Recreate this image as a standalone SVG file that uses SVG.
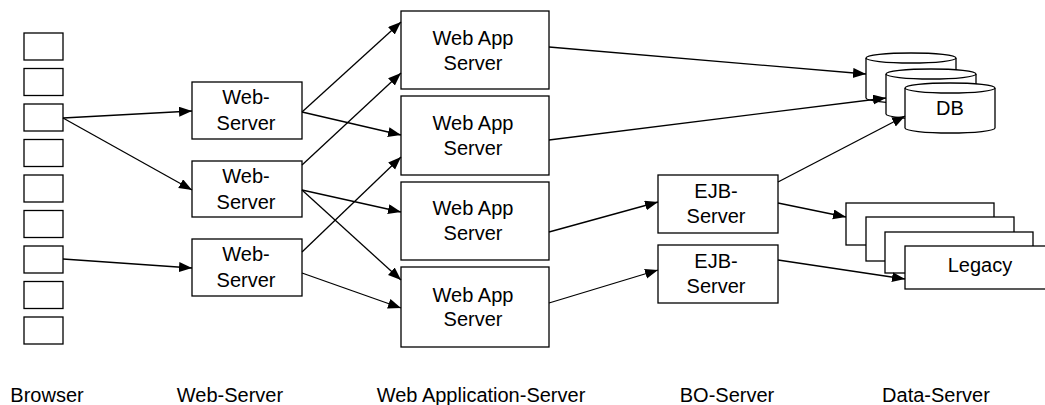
<svg xmlns="http://www.w3.org/2000/svg" width="1045" height="405" viewBox="0 0 1045 405">
<style>
.box{fill:#fff;stroke:#000;stroke-width:1.3}
.t{font-family:"Liberation Sans",Arial,sans-serif;font-size:20px;fill:#000;text-anchor:middle}
.c{fill:none;stroke:#000;stroke-width:1.3}
</style>
<defs>
<marker id="ah" markerUnits="userSpaceOnUse" markerWidth="14" markerHeight="12" refX="13" refY="5" orient="auto">
<path d="M0,0 L13,5 L0,10 z" fill="#000"/>
</marker>
</defs>
<rect width="1045" height="405" fill="#fff"/>
<g id="browser">
<rect class="box" x="24" y="33" width="39" height="27"/>
<rect class="box" x="24" y="68.5" width="39" height="27"/>
<rect class="box" x="24" y="104" width="39" height="27"/>
<rect class="box" x="24" y="139.5" width="39" height="27"/>
<rect class="box" x="24" y="175" width="39" height="27"/>
<rect class="box" x="24" y="210.5" width="39" height="27"/>
<rect class="box" x="24" y="246" width="39" height="27"/>
<rect class="box" x="24" y="281.5" width="39" height="27"/>
<rect class="box" x="24" y="317" width="39" height="27"/>
</g>
<g id="ws1"><rect class="box" x="192" y="82" width="110" height="57"/><text class="t" x="246" y="104">Web-</text><text class="t" x="246" y="130">Server</text></g>
<g id="ws2"><rect class="box" x="192" y="161" width="110" height="56"/><text class="t" x="246" y="183">Web-</text><text class="t" x="246" y="209">Server</text></g>
<g id="ws3"><rect class="box" x="192" y="239" width="110" height="57"/><text class="t" x="246" y="261">Web-</text><text class="t" x="246" y="287">Server</text></g>
<g id="wa1"><rect class="box" x="401" y="11" width="148" height="78"/><text class="t" x="473" y="45">Web App</text><text class="t" x="473" y="70">Server</text></g>
<g id="wa2"><rect class="box" x="401" y="96" width="148" height="79"/><text class="t" x="473" y="130">Web App</text><text class="t" x="473" y="155">Server</text></g>
<g id="wa3"><rect class="box" x="401" y="182" width="148" height="78"/><text class="t" x="473" y="215">Web App</text><text class="t" x="473" y="240">Server</text></g>
<g id="wa4"><rect class="box" x="401" y="267" width="148" height="80"/><text class="t" x="473" y="302">Web App</text><text class="t" x="473" y="326">Server</text></g>
<g id="ejb1"><rect class="box" x="658" y="175" width="120" height="58"/><text class="t" x="716" y="198">EJB-</text><text class="t" x="716" y="223">Server</text></g>
<g id="ejb2"><rect class="box" x="658" y="245" width="120" height="58"/><text class="t" x="716" y="268">EJB-</text><text class="t" x="716" y="293">Server</text></g>
<g id="db">
<path class="box" d="M866,58 a45,5 0 0 1 90,0 v40 a45,5 0 0 1 -90,0 z"/><path class="c" d="M866,58 a45,5 0 0 0 90,0"/>
<path class="box" d="M886,74 a45,5 0 0 1 90,0 v40 a45,5 0 0 1 -90,0 z"/><path class="c" d="M886,74 a45,5 0 0 0 90,0"/>
<path class="box" d="M905,88 a45,5 0 0 1 90,0 v40 a45,5 0 0 1 -90,0 z"/><path class="c" d="M905,88 a45,5 0 0 0 90,0"/>
<text class="t" x="950" y="115">DB</text>
</g>
<g id="legacy">
<rect class="box" x="846" y="203" width="148" height="42"/>
<rect class="box" x="866" y="217" width="148" height="44"/>
<rect class="box" x="885" y="232" width="148" height="41"/>
<rect class="box" x="905" y="246" width="148" height="43"/>
<text class="t" x="980" y="272">Legacy</text>
</g>
<g id="connectors" class="c" marker-end="url(#ah)">
<path class="c" marker-end="url(#ah)" d="M63,118 L192,111"/>
<path class="c" marker-end="url(#ah)" d="M63,118 L192,190"/>
<path class="c" marker-end="url(#ah)" d="M63,259 L192,268"/>
<path class="c" marker-end="url(#ah)" d="M302,112 L401,22"/>
<path class="c" marker-end="url(#ah)" d="M302,112 L401,135"/>
<path class="c" marker-end="url(#ah)" d="M302,165 L401,73"/>
<path class="c" marker-end="url(#ah)" d="M302,190 L401,212"/>
<path class="c" marker-end="url(#ah)" d="M302,190 L401,280"/>
<path class="c" marker-end="url(#ah)" d="M302,252 L401,157"/>
<path class="c" marker-end="url(#ah)" d="M302,273 L401,308"/>
<path class="c" marker-end="url(#ah)" d="M549,47 L866,74"/>
<path class="c" marker-end="url(#ah)" d="M549,140 L886,98"/>
<path class="c" marker-end="url(#ah)" d="M549,232 L658,202"/>
<path class="c" marker-end="url(#ah)" d="M549,303 L658,270"/>
<path class="c" marker-end="url(#ah)" d="M778,182 L905,116"/>
<path class="c" marker-end="url(#ah)" d="M778,203 L846,217"/>
<path class="c" marker-end="url(#ah)" d="M778,260 L905,279"/>
</g>
<g id="labels">
<text class="t" x="47" y="402">Browser</text>
<text class="t" x="230" y="402">Web-Server</text>
<text class="t" x="481" y="402">Web Application-Server</text>
<text class="t" x="727" y="402">BO-Server</text>
<text class="t" x="936" y="402">Data-Server</text>
</g>
</svg>
